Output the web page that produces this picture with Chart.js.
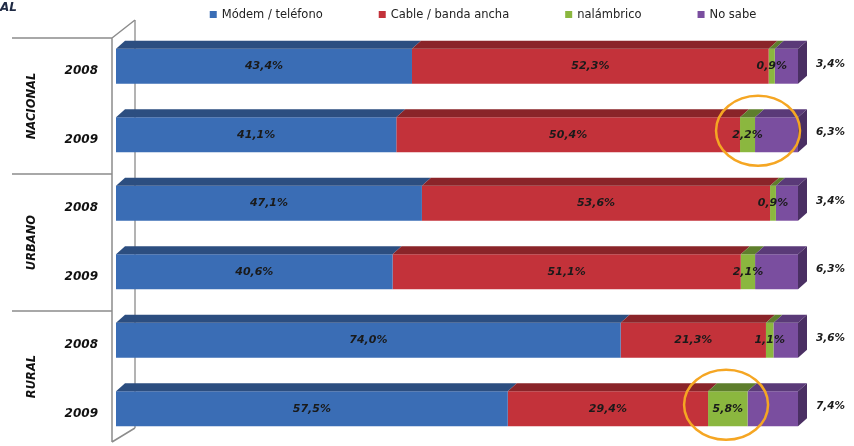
<!DOCTYPE html>
<html>
<head>
<meta charset="utf-8">
<script src="https://cdn.jsdelivr.net/npm/chart.js@4.4.1/dist/chart.umd.min.js"></script>
<style>
  html, body { margin: 0; padding: 0; background: #fff; }
  canvas { display: block; }
</style>
</head>
<body>
<canvas id="myChart" width="854" height="446"></canvas>
<script>
// Values (percent labels)
const categories = ['2008', '2009', '2008', '2009', '2008', '2009'];
const groups = ['NACIONAL', 'URBANO', 'RURAL'];
const seriesNames = ['Módem / teléfono', 'Cable / banda ancha', 'nalámbrico', 'No sabe'];
const modem = [43.4, 41.1, 47.1, 40.6, 74.0, 57.5];
const cable = [52.3, 50.4, 53.6, 51.1, 21.3, 29.4];
const inalambrico = [0.9, 2.2, 0.9, 2.1, 1.1, 5.8];
const noSabe = [3.4, 6.3, 3.4, 6.3, 3.6, 7.4];
const highlighted = [1, 5]; // rows circled in orange

const FONT = 'DejaVu Sans';
const fmt = v => v.toFixed(1).replace('.', ',') + '%';

// 100% stacked: each row scaled to its own total
const rowTotals = categories.map((_, i) => modem[i] + cable[i] + inalambrico[i] + noSabe[i]);
const pct = arr => arr.map((v, i) => v / rowTotals[i] * 100);

const colors = ['#3A6DB5', '#C3323A', '#8BB73F', '#7A4E9F'];
const topColors = ['#2C4E80', '#8A2429', '#5E7E2C', '#5A3A78'];
const sideColor = '#4A2F63';
const DX = 9, DY = 8;

const deco = {
    id: 'deco',
    beforeDatasetsDraw(chart) {
        const ctx = chart.ctx;
        const a = chart.chartArea;
        // back wall edge
        ctx.save();
        ctx.strokeStyle = '#9A9A9A';
        ctx.lineWidth = 1.5;
        ctx.beginPath();
        ctx.moveTo(a.left + 19, a.top - 12);
        ctx.lineTo(a.left + 19, a.bottom - 15);
        ctx.stroke();
        ctx.restore();
    },
    afterDatasetsDraw(chart) {
        const ctx = chart.ctx;
        const a = chart.chartArea;
        const yScale = chart.scales.y;
        const nSets = chart.data.datasets.length;

        // 3D top and side faces
        chart.data.datasets.forEach((ds, di) => {
            const meta = chart.getDatasetMeta(di);
            meta.data.forEach(bar => {
                const p = bar.getProps(['x', 'y', 'base', 'height'], true);
                const top = p.y - p.height / 2;
                const bottom = p.y + p.height / 2;
                ctx.fillStyle = topColors[di];
                ctx.beginPath();
                ctx.moveTo(p.base, top);
                ctx.lineTo(p.x, top);
                ctx.lineTo(p.x + DX, top - DY);
                ctx.lineTo(p.base + DX, top - DY);
                ctx.closePath();
                ctx.fill();
                if (di === nSets - 1) {
                    ctx.fillStyle = sideColor;
                    ctx.beginPath();
                    ctx.moveTo(p.x, top);
                    ctx.lineTo(p.x + DX, top - DY);
                    ctx.lineTo(p.x + DX, bottom - DY);
                    ctx.lineTo(p.x, bottom);
                    ctx.closePath();
                    ctx.fill();
                }
            });
        });

        // value labels
        ctx.save();
        ctx.fillStyle = '#1A1A1A';
        ctx.textBaseline = 'middle';
        chart.data.datasets.forEach((ds, di) => {
            const meta = chart.getDatasetMeta(di);
            meta.data.forEach((bar, i) => {
                const p = bar.getProps(['x', 'y', 'base'], true);
                const txt = fmt(ds.raw[i]);
                if (di === nSets - 1) {
                    ctx.font = 'italic bold 10.5px ' + FONT;
                    ctx.textAlign = 'left';
                    ctx.fillText(txt, a.right + 18, p.y - 2);
                } else {
                    ctx.font = 'italic bold 11px ' + FONT;
                    ctx.textAlign = 'center';
                    ctx.fillText(txt, (p.x + p.base) / 2, p.y);
                }
            });
        });
        ctx.restore();

        // front axis line, group separators and group names
        ctx.save();
        ctx.strokeStyle = '#8C8C8C';
        ctx.lineWidth = 1.5;
        const fx = a.left - 4;
        const y0 = a.top + 6;
        const y1 = a.bottom - 1;
        ctx.beginPath();
        ctx.moveTo(fx, y0);
        ctx.lineTo(fx, y1);
        ctx.moveTo(fx, y0);
        ctx.lineTo(a.left + 19, a.top - 12);
        ctx.moveTo(fx, y1);
        ctx.lineTo(a.left + 19, a.bottom - 15);
        const bounds = [y0];
        for (let g = 1; g < groups.length; g++) {
            const i = g * 2;
            bounds.push((yScale.getPixelForValue(i - 1) + yScale.getPixelForValue(i)) / 2 + 5);
        }
        bounds.forEach(by => {
            ctx.moveTo(12, by);
            ctx.lineTo(fx, by);
        });
        ctx.stroke();
        bounds.push(y1);
        ctx.fillStyle = '#111';
        ctx.font = 'italic bold 11.5px ' + FONT;
        ctx.textAlign = 'center';
        ctx.textBaseline = 'middle';
        groups.forEach((name, g) => {
            const cy = (bounds[g] + bounds[g + 1]) / 2;
            ctx.save();
            ctx.translate(32, cy);
            ctx.rotate(-Math.PI / 2);
            ctx.fillText(name, 0, 0);
            ctx.restore();
        });
        ctx.restore();

        // orange circles
        ctx.save();
        ctx.strokeStyle = '#F5A623';
        ctx.lineWidth = 2.5;
        const cableMeta = chart.getDatasetMeta(1);
        highlighted.forEach(i => {
            const p = cableMeta.data[i].getProps(['x', 'y'], true);
            ctx.beginPath();
            ctx.ellipse(p.x + 18, p.y - 4, 42, 35, 0, 0, Math.PI * 2);
            ctx.stroke();
        });
        ctx.restore();

        // legend
        ctx.save();
        ctx.font = '11.5px ' + FONT;
        ctx.textBaseline = 'middle';
        ctx.textAlign = 'left';
        const gap = 56;
        const widths = seriesNames.map(n => 7 + 5 + ctx.measureText(n).width);
        const total = widths.reduce((s, w) => s + w, 0) + gap * (seriesNames.length - 1);
        let lx = 483 - total / 2;
        seriesNames.forEach((n, k) => {
            ctx.fillStyle = colors[k];
            ctx.fillRect(lx, 11, 7, 7);
            ctx.fillStyle = '#222';
            ctx.fillText(n, lx + 12, 15);
            lx += widths[k] + gap;
        });
        ctx.font = 'italic bold 12px ' + FONT;
        ctx.textBaseline = 'alphabetic';
        ctx.fillStyle = '#1F2A44';
        ctx.fillText('AL', 0, 11);
        ctx.restore();
    }
};

const ctx = document.getElementById('myChart').getContext('2d');
const sources = [modem, cable, inalambrico, noSabe];

new Chart(ctx, {
    type: 'bar',
    data: {
        labels: categories,
        datasets: sources.map((arr, k) => ({
            label: seriesNames[k],
            data: pct(arr),
            raw: arr,
            backgroundColor: colors[k],
            barPercentage: 0.51,
            categoryPercentage: 1.0
        }))
    },
    options: {
        indexAxis: 'y',
        responsive: false,
        animation: false,
        devicePixelRatio: 1,
        layout: { padding: { top: 32, right: 56, bottom: 3, left: 0 } },
        scales: {
            x: { stacked: true, min: 0, max: 100, display: false },
            y: {
                stacked: true,
                grid: { display: false, drawTicks: false },
                border: { display: false },
                ticks: {
                    color: '#111',
                    font: { family: FONT, size: 12, weight: 'bold', style: 'italic' },
                    padding: 18,
                    labelOffset: 5
                },
                afterFit: s => {
                    s.width = 116;
                    s.paddingTop = 0;
                    s.paddingBottom = 0;
                }
            }
        },
        plugins: {
            legend: { display: false },
            tooltip: { enabled: false }
        }
    },
    plugins: [deco]
});
</script>
</body>
</html>
